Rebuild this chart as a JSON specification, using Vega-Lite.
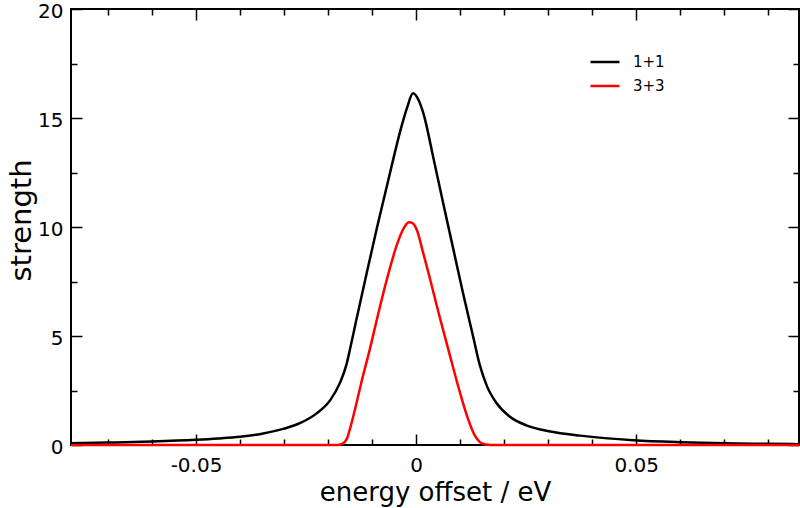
{
  "$schema": "https://vega.github.io/schema/vega-lite/v6.json",
  "width": 728,
  "height": 436,
  "autosize": {"type": "none"},
  "padding": {"left": 71, "top": 9, "right": 1, "bottom": 63},
  "background": "white",
  "config": {
    "view": {"stroke": "black", "strokeWidth": 2},
    "axis": {
      "grid": false,
      "domain": false,
      "labelFont": "DejaVu Sans",
      "titleFont": "DejaVu Sans",
      "labelColor": "black",
      "titleColor": "black",
      "tickColor": "black",
      "tickWidth": 1.5,
      "labelFontSize": 20,
      "titleFontSize": 26,
      "titleFontWeight": "normal"
    }
  },
  "data": {
    "values": [
      {"e": -0.0784, "s": 0.08, "series": "1+1"},
      {"e": -0.07, "s": 0.11, "series": "1+1"},
      {"e": -0.06, "s": 0.16, "series": "1+1"},
      {"e": -0.05, "s": 0.24, "series": "1+1"},
      {"e": -0.045, "s": 0.30, "series": "1+1"},
      {"e": -0.04, "s": 0.38, "series": "1+1"},
      {"e": -0.035, "s": 0.52, "series": "1+1"},
      {"e": -0.03, "s": 0.75, "series": "1+1"},
      {"e": -0.0264, "s": 1.0, "series": "1+1"},
      {"e": -0.0226, "s": 1.45, "series": "1+1"},
      {"e": -0.0195, "s": 2.06, "series": "1+1"},
      {"e": -0.0173, "s": 2.85, "series": "1+1"},
      {"e": -0.0158, "s": 3.7, "series": "1+1"},
      {"e": -0.015, "s": 4.4, "series": "1+1"},
      {"e": -0.0135, "s": 5.8, "series": "1+1"},
      {"e": -0.0112, "s": 7.9, "series": "1+1"},
      {"e": -0.0089, "s": 9.95, "series": "1+1"},
      {"e": -0.0059, "s": 12.5, "series": "1+1"},
      {"e": -0.0036, "s": 14.4, "series": "1+1"},
      {"e": -0.002, "s": 15.5, "series": "1+1"},
      {"e": -0.0007, "s": 16.13, "series": "1+1"},
      {"e": 0.0005, "s": 15.85, "series": "1+1"},
      {"e": 0.0017, "s": 15.19, "series": "1+1"},
      {"e": 0.0039, "s": 13.2, "series": "1+1"},
      {"e": 0.0062, "s": 11.06, "series": "1+1"},
      {"e": 0.0085, "s": 8.95, "series": "1+1"},
      {"e": 0.0107, "s": 6.94, "series": "1+1"},
      {"e": 0.013, "s": 4.94, "series": "1+1"},
      {"e": 0.0145, "s": 3.65, "series": "1+1"},
      {"e": 0.0161, "s": 2.7, "series": "1+1"},
      {"e": 0.0184, "s": 1.89, "series": "1+1"},
      {"e": 0.0214, "s": 1.28, "series": "1+1"},
      {"e": 0.0252, "s": 0.89, "series": "1+1"},
      {"e": 0.0305, "s": 0.62, "series": "1+1"},
      {"e": 0.0373, "s": 0.43, "series": "1+1"},
      {"e": 0.0494, "s": 0.22, "series": "1+1"},
      {"e": 0.06, "s": 0.13, "series": "1+1"},
      {"e": 0.07, "s": 0.08, "series": "1+1"},
      {"e": 0.08, "s": 0.055, "series": "1+1"},
      {"e": 0.087, "s": 0.04, "series": "1+1"},
      {"e": -0.0784, "s": 0, "series": "3+3"},
      {"e": -0.018, "s": 0, "series": "3+3"},
      {"e": -0.0168, "s": 0.05, "series": "3+3"},
      {"e": -0.0157, "s": 0.3, "series": "3+3"},
      {"e": -0.015, "s": 0.75, "series": "3+3"},
      {"e": -0.0138, "s": 1.7, "series": "3+3"},
      {"e": -0.0124, "s": 2.9, "series": "3+3"},
      {"e": -0.0105, "s": 4.4, "series": "3+3"},
      {"e": -0.0085, "s": 6.1, "series": "3+3"},
      {"e": -0.0065, "s": 7.7, "series": "3+3"},
      {"e": -0.0045, "s": 9.1, "series": "3+3"},
      {"e": -0.0028, "s": 9.95, "series": "3+3"},
      {"e": -0.0016, "s": 10.22, "series": "3+3"},
      {"e": -0.0008, "s": 10.18, "series": "3+3"},
      {"e": 0.0002, "s": 9.85, "series": "3+3"},
      {"e": 0.0015, "s": 8.9, "series": "3+3"},
      {"e": 0.003, "s": 7.75, "series": "3+3"},
      {"e": 0.0052, "s": 6.0, "series": "3+3"},
      {"e": 0.0074, "s": 4.33, "series": "3+3"},
      {"e": 0.0097, "s": 2.6, "series": "3+3"},
      {"e": 0.0118, "s": 1.2, "series": "3+3"},
      {"e": 0.0133, "s": 0.45, "series": "3+3"},
      {"e": 0.0145, "s": 0.13, "series": "3+3"},
      {"e": 0.0158, "s": 0.02, "series": "3+3"},
      {"e": 0.017, "s": 0, "series": "3+3"},
      {"e": 0.087, "s": 0, "series": "3+3"}
    ]
  },
  "layer": [
    {
      "mark": {"type": "line", "strokeWidth": 2.5, "interpolate": "monotone"},
      "encoding": {
        "x": {
          "field": "e", "type": "quantitative",
          "scale": {"domain": [-0.0784, 0.087], "nice": false, "zero": false},
          "axis": {
            "orient": "bottom",
            "values": [-0.05, 0, 0.05],
            "tickSize": -11,
            "labelPadding": 21,
            "labelExpr": "datum.value == 0 ? '0' : (datum.value < 0 ? '-' : '') + format(abs(datum.value), '.2f')",
            "title": "energy offset / eV",
            "titlePadding": 4
          }
        },
        "y": {
          "field": "s", "type": "quantitative",
          "scale": {"domain": [0, 20], "nice": false, "zero": false},
          "axis": {
            "orient": "left",
            "values": [0, 5, 10, 15, 20],
            "tickSize": -11,
            "labelPadding": 19,
            "labelOffset": 2,
            "format": "d",
            "title": "strength",
            "titleFontSize": 29,
            "titleX": -35,
            "titleY": 211
          }
        },
        "color": {
          "field": "series", "type": "nominal",
          "scale": {"domain": ["1+1", "3+3"], "range": ["#000000", "#ff0000"]},
          "legend": {
            "title": null,
            "orient": "none",
            "legendX": 518,
            "legendY": 37,
            "symbolType": "stroke",
            "symbolSize": 841,
            "symbolStrokeWidth": 2.5,
            "labelFont": "DejaVu Sans",
            "labelFontSize": 15,
            "labelColor": "black",
            "labelOffset": 12,
            "rowPadding": -4
          }
        }
      }
    },
    {
      "mark": {"type": "line", "opacity": 0},
      "encoding": {
        "x": {"field": "e", "type": "quantitative",
          "axis": {"orient": "bottom", "values": [-0.07, -0.06, -0.04, -0.03, -0.02, -0.01, 0.01, 0.02, 0.03, 0.04, 0.06, 0.07, 0.08], "labels": false, "tickSize": -6, "title": null}},
        "y": {"field": "s", "type": "quantitative",
          "axis": {"orient": "left", "values": [2.5, 7.5, 12.5, 17.5], "labels": false, "tickSize": -6, "title": null}},
        "detail": {"field": "series"}
      }
    },
    {
      "mark": {"type": "line", "opacity": 0},
      "encoding": {
        "x": {"field": "e", "type": "quantitative",
          "axis": {"orient": "top", "values": [-0.05, 0, 0.05], "labels": false, "tickSize": -11, "title": null}},
        "y": {"field": "s", "type": "quantitative",
          "axis": {"orient": "right", "values": [0, 5, 10, 15, 20], "labels": false, "tickSize": -11, "title": null}},
        "detail": {"field": "series"}
      }
    },
    {
      "mark": {"type": "line", "opacity": 0},
      "encoding": {
        "x": {"field": "e", "type": "quantitative",
          "axis": {"orient": "top", "values": [-0.07, -0.06, -0.04, -0.03, -0.02, -0.01, 0.01, 0.02, 0.03, 0.04, 0.06, 0.07, 0.08], "labels": false, "tickSize": -6, "title": null}},
        "y": {"field": "s", "type": "quantitative",
          "axis": {"orient": "right", "values": [2.5, 7.5, 12.5, 17.5], "labels": false, "tickSize": -6, "title": null}},
        "detail": {"field": "series"}
      }
    }
  ],
  "resolve": {"axis": {"x": "independent", "y": "independent"}}
}
